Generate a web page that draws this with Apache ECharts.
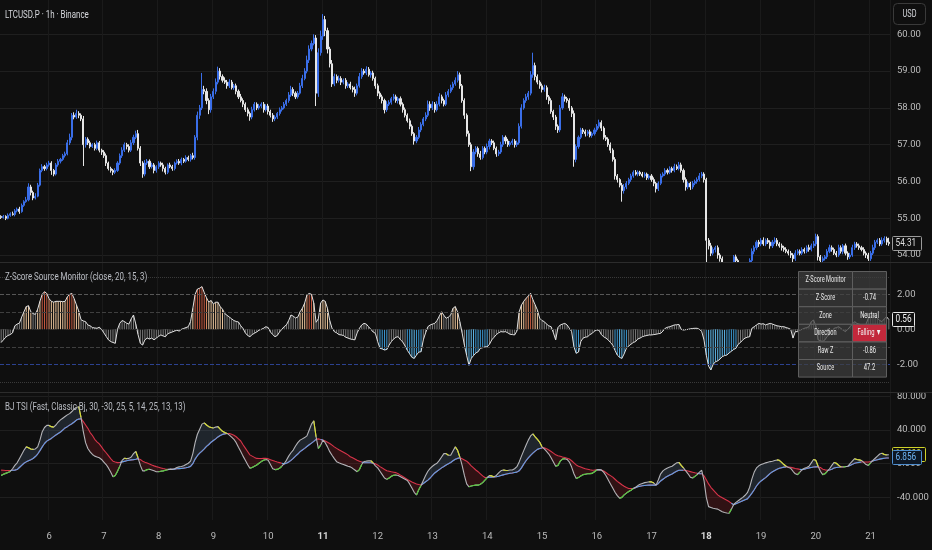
<!DOCTYPE html>
<html><head><meta charset="utf-8">
<script src="https://cdn.jsdelivr.net/npm/echarts@6/dist/echarts.min.js"></script>
<style>html,body{margin:0;padding:0;background:#0f0f0f;}#c{width:932px;height:550px;}</style>
</head><body><div id="c"></div>
<script>
// ---------- DATA (hourly bars, first bar = day 5, 03:00) ----------
const startDay = 5, startHour = 3;
const firstOpen = 55.05;
const closeRows = [
 [55.02,55.05,55.0,55.08,55.12,55.1,55.2,55.25,55.18,55.35,55.45,55.5,55.85,55.7,55.55,55.6,55.9,56.3,56.4,56.35,56.45],
 [56.5,56.3,56.2,56.45,56.55,56.6,56.7,56.75,57.05,57.2,57.8,57.75,57.85,57.8,57.7,57.0,57.15,57.05,56.95,57.0,56.9,57.05,56.85,56.8],
 [56.7,56.5,56.35,56.3,56.25,56.3,56.5,56.7,56.85,57.0,56.95,56.85,57.05,57.2,57.3,56.9,56.5,56.2,56.5,56.55,56.4,56.45,56.3,56.4],
 [56.5,56.45,56.35,56.25,56.45,56.4,56.35,56.5,56.55,56.5,56.6,56.55,56.65,56.6,56.7,56.65,57.2,57.8,58.0,58.5,58.45,58.2,57.95,58.3],
 [58.45,58.7,59.0,58.85,58.75,58.7,58.6,58.7,58.55,58.6,58.45,58.3,58.2,58.1,57.95,57.85,57.75,57.95,58.1,58.0,58.05,58.1,57.95,58.05],
 [57.9,57.8,57.7,57.75,57.85,57.95,58.0,58.1,58.2,58.35,58.5,58.4,58.3,58.4,58.6,58.8,59.0,59.3,59.6,59.75,59.9,58.4,59.5,59.95],
 [60.4,60.1,59.6,59.2,58.65,58.85,58.75,58.8,58.7,58.75,58.6,58.65,58.55,58.5,58.4,58.6,58.85,59.0,58.95,59.05,58.9,58.95,58.8,58.6],
 [58.4,58.3,58.2,57.95,58.1,58.15,58.25,58.3,58.2,58.25,58.1,57.95,57.8,57.65,57.5,57.3,57.1,57.2,57.4,57.55,57.7,57.8,58.1,58.0],
 [58.1,57.95,58.1,58.3,58.2,58.1,58.35,58.45,58.55,58.65,58.75,58.9,58.6,58.2,57.8,57.3,57.0,56.4,56.8,56.9,56.75,56.65,56.9,56.8],
 [56.95,57.1,57.05,56.9,56.75,56.8,57.0,57.2,57.1,57.0,57.05,57.1,57.0,57.05,57.5,58.0,58.2,58.3,58.4,58.9,59.15,58.85,58.7,58.6],
 [58.5,58.55,58.3,58.2,57.9,57.75,57.5,57.4,58.0,58.3,58.25,58.2,58.0,57.85,56.6,56.95,57.2,57.4,57.35,57.3,57.35,57.25,57.3,57.4],
 [57.5,57.6,57.45,57.2,57.15,57.0,56.85,56.6,56.15,56.05,55.9,55.75,55.85,55.95,56.05,56.15,56.25,56.2,56.25,56.2,56.15,56.2,56.1,56.15],
 [56.05,55.95,55.8,55.95,56.15,56.2,56.3,56.25,56.35,56.3,56.4,56.35,56.45,56.3,56.05,55.85,55.95,55.85,55.95,56.0,56.05,56.15,56.2,56.05],
 [54.4,54.25,54.05,54.15,54.2,54.0,53.9,53.7,53.6,53.65,53.6,53.75,53.95,53.85,53.7,53.6,53.55,53.6,53.7,53.85,54.1,54.2,54.35,54.3],
 [54.4,54.3,54.4,54.35,54.25,54.35,54.4,54.3,54.25,54.2,54.15,54.1,54.05,54.0,53.9,54.05,54.1,54.05,54.15,54.1,54.2,54.15,54.25,54.3],
 [54.5,53.95,53.85,53.9,53.95,54.1,54.2,54.15,54.05,54.0,54.2,54.1,54.25,54.05,53.95,54.0,54.2,54.3,54.25,54.2,54.15,54.05,54.0,53.9],
 [54.05,54.2,54.35,54.4,54.3,54.4,54.45,54.35,54.31]
];
// wick lengths above / below the candle body, in cents
const wickUpRows = [
 [3,4,3,5,4,6,5,4,6,5,4,8,10,6,5,8,6,5,7,5,6],
 [6,5,4,5,6,4,5,6,8,10,6,8,10,6,5,8,6,5,6,4,5,6,5,4],
 [5,6,4,5,4,6,5,6,8,6,5,6,8,7,8,10,6,5,8,6,5,6,5,4],
 [5,4,6,5,4,6,5,4,5,6,5,4,6,5,5,8,6,10,8,45,10,8,6,8],
 [8,10,12,8,6,8,6,8,6,5,6,5,8,6,5,6,5,8,6,5,6,5,6,5],
 [6,5,6,5,4,6,5,6,5,8,10,6,5,6,8,10,8,12,10,8,10,8,12,15],
 [15,10,8,6,10,8,6,8,6,5,6,5,6,5,8,6,10,8,6,8,6,5,6,5],
 [6,5,6,5,8,6,5,8,6,5,6,5,6,5,6,5,4,6,8,6,5,8,10,8],
 [8,6,8,10,6,5,8,6,8,6,8,10,6,5,6,5,8,6,8,6,5,8,6,5],
 [8,6,5,6,5,6,8,6,5,6,5,6,5,6,8,10,6,8,6,10,35,8,6,5],
 [6,8,6,5,6,5,6,5,8,10,6,5,6,5,8,6,5,6,5,6,5,6,5,6],
 [6,8,6,5,6,5,6,5,6,5,4,6,8,6,5,6,5,6,5,4,6,5,4,5],
 [5,6,4,5,6,5,6,5,6,5,8,6,8,6,5,6,5,4,6,5,6,8,6,5],
 [5,6,8,6,5,6,5,6,5,6,8,6,5,6,5,6,5,6,8,6,8,6,5,6],
 [6,8,5,6,5,6,8,6,5,6,5,6,5,6,5,8,6,5,6,5,6,8,6,8],
 [8,6,5,6,5,6,8,6,5,6,8,6,5,6,5,6,8,6,5,6,5,6,5,6],
 [6,8,6,5,6,8,6,5,12]
];
const wickDnRows = [
 [4,3,5,3,4,3,5,4,6,3,4,3,4,8,6,4,3,4,5,6,5],
 [5,12,6,4,5,6,4,5,4,6,8,6,5,8,6,58,8,6,5,4,6,5,6,8],
 [6,8,5,6,8,5,4,5,6,5,8,6,5,6,5,6,8,10,6,5,6,5,8,6],
 [6,5,8,6,5,4,6,5,4,5,6,5,4,5,6,5,6,8,10,6,8,10,12,8],
 [6,8,6,8,6,5,8,6,5,6,8,6,5,8,6,8,10,6,5,6,5,6,8,5],
 [8,6,8,6,5,6,5,4,5,6,5,8,6,5,4,6,5,6,8,6,5,35,10,8],
 [10,15,12,10,8,6,8,6,8,6,8,6,5,8,10,6,5,6,5,6,5,8,6,8],
 [8,6,8,10,6,5,6,5,6,8,6,8,6,5,8,6,10,6,5,6,5,6,5,8],
 [6,8,5,6,8,6,5,6,5,6,5,6,8,6,10,8,6,12,8,6,8,6,5,6],
 [6,8,6,5,8,6,5,6,8,6,5,6,8,6,5,6,5,6,8,6,8,10,6,8],
 [8,6,8,10,6,8,10,8,6,5,8,6,8,10,20,8,6,5,6,8,6,5,6,5],
 [5,6,8,6,5,6,8,6,10,8,6,30,8,6,5,6,5,4,6,5,4,5,6,5],
 [6,8,10,6,5,4,5,6,5,6,5,4,5,6,8,10,6,8,6,5,6,5,6,8],
 [60,10,8,6,8,10,8,6,8,6,8,6,8,10,6,8,6,8,6,5,6,8,6,8],
 [6,5,6,5,8,6,5,6,5,8,6,5,6,8,10,6,5,6,5,6,5,6,5,6],
 [6,10,8,6,5,6,5,6,5,6,5,6,8,6,8,6,5,6,5,6,5,6,8,6],
 [6,5,6,5,6,5,6,8,6]
];
const zScoreRows = [
 [-0.75,-0.6,-0.45,-0.35,-0.3,-0.2,0.2,0.3,0.35,0.7,1.0,1.3,1.35,1.0,0.9,0.85,1.15,1.6,2.0,2.15,2.05],
 [1.75,1.6,1.55,1.6,1.6,1.6,1.58,1.6,1.85,2.0,2.05,1.75,1.4,1.05,0.55,0.48,0.44,0.25,0.2,0.1,0.08,0.06,0.12,0.0],
 [-0.2,-0.4,-0.6,-0.7,-0.75,-0.8,0.0,0.35,0.5,0.45,0.35,0.3,0.6,0.82,0.3,-0.3,-0.8,-0.9,-0.6,-0.5,-0.55,-0.5,-0.6,-0.5],
 [-0.4,-0.32,-0.38,-0.42,-0.25,-0.2,-0.15,-0.1,-0.05,-0.1,0.0,0.05,0.1,0.15,0.45,1.2,2.0,2.3,2.35,2.44,2.1,1.8,1.55,1.65],
 [1.45,1.55,1.55,1.3,1.15,0.9,0.8,0.7,0.6,0.5,0.45,0.42,0.2,0.05,-0.2,-0.35,-0.42,-0.3,-0.22,-0.15,-0.05,0.0,0.06,0.15],
 [0.1,-0.15,-0.3,-0.42,-0.35,-0.15,0.0,0.15,0.25,0.5,0.82,0.75,0.65,0.7,1.0,1.2,1.5,1.96,2.05,2.0,1.5,0.4,0.6,1.5],
 [1.68,1.6,1.2,0.5,0.06,-0.13,-0.2,-0.3,-0.32,-0.35,-0.45,-0.5,-0.55,-0.58,-0.6,-0.2,0.06,0.25,0.34,0.3,0.15,0.0,-0.15,-0.23],
 [-0.7,-1.08,-1.12,-1.18,-1.15,-0.9,-0.7,-0.55,-0.45,-0.42,-0.6,-0.72,-0.95,-1.2,-1.4,-1.6,-1.66,-1.47,-1.3,-1.28,-0.6,-0.2,0.15,0.25],
 [0.3,0.34,0.5,0.75,1.0,0.8,0.63,0.7,0.82,1.2,1.3,1.0,0.44,-0.2,-0.9,-1.5,-2.05,-1.66,-1.5,-1.35,-1.28,-1.08,-1.05,-1.0],
 [-1.0,-0.85,-0.6,-0.45,-0.3,-0.2,-0.13,-0.15,-0.13,-0.2,-0.28,-0.3,-0.32,-0.1,1.0,1.39,1.6,1.77,1.9,2.06,1.7,1.4,1.1,0.63],
 [0.5,0.44,0.3,0.2,0.15,-0.2,-0.6,0.1,0.25,0.3,0.34,0.25,0.06,-0.13,-1.0,-1.37,-1.3,-0.7,-0.5,-0.45,-0.42,-0.3,-0.23,-0.1],
 [-0.04,-0.05,-0.3,-0.42,-0.5,-0.6,-0.75,-0.9,-1.2,-1.47,-1.6,-1.66,-1.4,-1.08,-0.95,-0.85,-0.75,-0.7,-0.55,-0.5,-0.42,-0.38,-0.35,-0.32],
 [-0.32,-0.3,-0.28,-0.25,-0.23,-0.1,0.06,0.12,0.15,0.2,0.25,0.26,0.28,0.0,-0.04,-0.02,0.0,0.03,0.05,0.06,0.06,0.0,-0.13,-0.6],
 [-1.47,-2.1,-2.32,-2.0,-1.85,-1.8,-1.7,-1.56,-1.5,-1.47,-1.35,-1.25,-1.15,-1.08,-0.85,-0.75,-0.6,-0.5,-0.45,-0.42,0.06,0.15,0.25,0.34],
 [0.3,0.32,0.25,0.3,0.34,0.3,0.25,0.2,0.18,0.15,0.15,0.1,0.06,0.0,-0.5,-0.13,-0.13,-0.05,0.0,0.06,0.1,0.15,0.44,0.53],
 [0.2,-0.6,-0.65,-0.7,-0.6,-0.4,-0.3,-0.1,0.06,0.1,0.15,0.05,-0.05,-0.13,0.0,0.15,0.3,0.44,0.34,0.3,0.25,0.15,0.3,0.63],
 [0.7,0.82,0.75,0.63,0.5,0.44,0.6,0.72,0.56]
];
const tsiFastRows = [
 [-14,-12.5,-11.5,-10.5,-9.3,-6,-2,1,6,11,16,20,19,17.5,17,17.5,20,28,38,43,45.5],
 [45.5,44,43.5,46,49.5,52,54,56,58,59.5,62,65,67,67.7,55,38,25,18,14,11,9,8,7,5],
 [2,-1,-5,-10,-15.5,-14,-9,-3,4,6.5,6,6.3,8,12,14.5,7,-2,-8.5,-8.5,-7,-6.5,-7.5,-8.5,-9.5],
 [-9.5,-9,-8.5,-7.8,-7.2,-6.5,-6.7,-6,-4.5,-3.8,-3.3,-2.5,-1,0.5,3,12,25,35,41,47,48.5,46,44,43],
 [42.5,43.5,44,41,38.5,37,36,34,31.5,29,25,19.5,14.5,9,4,-1,-5.5,-4.5,-3,-1.6,0.5,2.5,4,5],
 [4,-1,-6,-7,-6.8,-5.5,-3,0,4,9,13,16.2,21,25,28,29.5,31,33,40,47,51,32,18,22],
 [28,25,20,14.3,10,6,2.4,1,0,-1,-2,-3,-3.8,-5.5,-7.5,-9.5,-7,-1,2.6,3,3.3,3.5,1,-2.5],
 [-5,-9,-13,-17,-18.6,-17,-15,-13.8,-13.5,-14,-15.5,-17,-18.5,-20,-24,-29,-34,-37.2,-31,-26,-20,-14,-9,-5.5],
 [-3,-1,0.5,4,8,12,12,10,10,15,20,16,8,-2,-14,-24,-27.5,-26.5,-26,-25.5,-25.5,-24.5,-22.5,-19.6],
 [-16.5,-14,-14.5,-15.5,-14,-11,-8.5,-7.5,-7.8,-8,-7.5,-7.5,-6,-3.5,2,9,15.5,22,28,33,35.5,32,29,25.5],
 [20,17.5,14.5,11.5,7,2,-3,-2,3,5.5,6,5,2,-4,-12,-17.5,-16.5,-14.5,-13,-12.5,-12,-11.8,-11.5,-9.5],
 [-7.5,-7,-7.5,-10,-14,-19,-24,-29,-34,-38,-41,-40,-37,-35,-33,-31.5,-29.5,-28,-26,-24.5,-23.5,-22.5,-22,-21.5],
 [-21.6,-23,-25.5,-19,-12,-8.5,-6.5,-5,-4,-3,-1,1,1.5,-2,-5,-8.5,-12,-16,-17,-15,-13,-10,-7.8,-20],
 [-40,-51,-52,-53,-53.5,-54,-55.5,-57,-58,-58.5,-58.8,-54,-48.5,-46,-44,-42,-40,-37.5,-34.5,-28,-18,-10,-5,-2.5],
 [-1,0,1,1.8,2.5,3,3.8,4.5,4,1.5,-1,-3,-4.5,-5.5,-9,-12,-13,-10,-7,-5.5,-4.5,-3,1,5],
 [4,-3,-9,-13,-12,-9,-6,-2,1.5,0.5,-2,-3.8,-4,-3.5,-3.1,0,3,5.9,5,4.5,3.9,1.5,-1,-2],
 [1,4,6.5,9,11.5,12.5,11,10.5,10.6]
];
const tsiSlowRows = [
 [-7.6,-7.8,-8,-8,-8,-7.8,-7.6,-7,-4.5,-2,0.5,2.2,3.5,4.8,6.2,8.5,11.5,15.5,20,24,26.8],
 [28.5,30,32.2,34,35.8,37.6,40,42.5,44,45.8,47.5,49.5,51.8,53,53.5,50,46,42,37,33.5,29,26,23.5,20],
 [16,13,9.5,6,3,2,1.3,1.5,2.2,2.8,3.4,4,4.5,4.8,5.3,6,5,3,1.8,0.8,-0.3,-1.5,-2.6,-3.5],
 [-4.2,-5,-5.8,-6.3,-6.7,-6.8,-6.7,-6.4,-6,-5.8,-5.6,-5.3,-4.8,-4.2,-3.2,0,5.5,9.5,12.5,15,17.5,20.5,22.8,25.5],
 [27.5,29.5,31.8,33.5,34.8,35.4,35.8,35.9,35,33.8,32,29.5,27,22.5,18.5,14.5,10.5,9,7.5,6.3,6.2,6.2,6.3,6.3],
 [5.8,4.8,3.8,2.8,2,1.3,0.5,-0.2,0.5,2,4,6.3,9,11.5,14.3,16.3,18.2,20.4,22.5,24.5,26.5,29,29.5,28.8],
 [28,27,25.5,24,22,20,18.2,16.5,15,13.5,12,10.5,8.3,7,5.5,4,3,2,1.2,1.2,1.2,1.1,0.6,-0.2],
 [-1.5,-3.5,-5,-6.8,-8.4,-9,-9.6,-10.1,-10.6,-12,-13.6,-15.2,-17,-18.8,-20.2,-21.8,-23,-24.2,-24.8,-25.3,-23.5,-21.5,-19.5,-17],
 [-14,-11,-9,-7,-5,-3.3,-1.5,0,1.5,3.5,5.2,6.3,7,6,4.5,3,0.5,-2.5,-5,-7.5,-9.5,-12,-14.5,-16.4],
 [-16.3,-16,-15.9,-15.8,-15.5,-15,-14,-13.3,-12.6,-12,-11.4,-11,-10.5,-10,-8.5,-5,-0.5,3.5,7,10,12.5,15,17,18],
 [18.7,18.8,17.8,16.3,14.5,12.5,10.5,9.5,8.8,8,7.3,6.5,5.5,3.5,1,-1.5,-3,-4,-5,-6,-6.6,-7.2,-7.7,-7.5],
 [-7.2,-7,-7.5,-8.6,-10.5,-12.5,-14.2,-16,-18.5,-21,-23,-25,-26.8,-28.3,-29.4,-29.5,-29.4,-28.5,-27.5,-26.8,-26.2,-25.9,-25.7,-25.5],
 [-25.5,-25.5,-25.5,-23.5,-20.5,-18.5,-16.5,-15,-13.5,-12.3,-10.5,-9,-7.8,-7.8,-7.8,-8,-8.7,-9.4,-10.1,-10.8,-11.4,-11.9,-12,-14.5],
 [-19,-24,-28,-31,-34,-37,-39,-40.5,-42,-43.5,-45,-47,-48.8,-47.5,-46.3,-45.3,-44,-42.8,-41.8,-38.5,-35,-31,-26.5,-23],
 [-20.5,-18.5,-16.5,-14,-11.5,-9.5,-8,-6.5,-5.5,-4.8,-4.1,-3.9,-4,-4.3,-5,-5.7,-6.2,-6.7,-7,-6.5,-5.8,-5,-4.5,-4],
 [-3.8,-3.6,-4.5,-6.5,-7.3,-7.7,-7.5,-6.5,-5.2,-4.5,-4.2,-3.9,-3.7,-3.4,-3.1,-2,-0.8,0.6,1.2,1.6,2,2,2,2],
 [2.6,3.3,4,4.7,5.4,6,6.4,6.7,6.856]
];
const priceTicks = [54, 55, 56, 57, 58, 59, 60];
const zTicks = [-2, 0, 2];
const zLevels = [3, 2, 1, 0, -1, -2, -3];
const tsiTicks = [-40, 0, 40, 80];
const boldDays = [11, 18];
const tableRows = [['Z-Score Monitor',''],['Z-Score','-0.74'],['Zone','Neutral'],['Direction','Falling ▼'],['Raw Z','-0.86'],['Source','47.2']];
const titles = ['LTCUSD.P · 1h · Binance', 'Z-Score Source Monitor (close, 20, 15, 3)', 'BJ TSI (Fast, Classic Bj, 30, -30, 25, 5, 14, 25, 13, 13)'];

const FONT = 'Roboto, "Noto Sans", sans-serif';
const FS = 9.5;

// ---------- build ----------
const closes = closeRows.flat();
const wickUp = wickUpRows.flat();
const wickDn = wickDnRows.flat();
const zScore = zScoreRows.flat();
const tsiFast = tsiFastRows.flat();
const tsiSlow = tsiSlowRows.flat();
const N = closes.length;
const cats = [], dayOf = [], hourOf = [];
for (let i = 0; i < N; i++) {
  const t = startHour + i;
  dayOf.push(startDay + Math.floor(t / 24)); hourOf.push(t % 24);
  cats.push(dayOf[i] + ' ' + String(hourOf[i]).padStart(2, '0') + ':00');
}
const midnight = (idx) => hourOf[idx] === 0;
const candles = closes.map((c, i) => {
  const o = i === 0 ? firstOpen : closes[i - 1];
  return [o, c, +(Math.min(o, c) - wickDn[i] / 100).toFixed(2), +(Math.max(o, c) + wickUp[i] / 100).toFixed(2)];
});
function zColor(v){
  if (v >= 2.0) return '#c4583f';
  if (v >= 1.7) return '#d98a63';
  if (v >= 1.0) return '#ebc59c';
  if (v > -1.0) return '#7a7a7a';
  if (v > -1.5) return '#3b97d0';
  return '#5db6e8';
}
const baseBand = tsiFast.map((f, i) => Math.min(f, tsiSlow[i]));
const blueBand = tsiFast.map((f, i) => f >= tsiSlow[i] ? +(f - tsiSlow[i]).toFixed(3) : 0);
const redBand = tsiFast.map((f, i) => f < tsiSlow[i] ? +(tsiSlow[i] - f).toFixed(3) : 0);
function overlay(arr, test){
  const out = arr.map(() => null);
  for (let i = 1; i < arr.length; i++) if (test(i)) { out[i - 1] = arr[i - 1]; out[i] = arr[i]; }
  return out;
}
const slowBlue = overlay(tsiSlow, i => tsiFast[i] >= tsiSlow[i]);
const fastYellow = overlay(tsiFast, i => tsiFast[i] > tsiSlow[i] && tsiFast[i] < tsiFast[i - 1]);
const fastGreen = overlay(tsiFast, i => tsiFast[i] < tsiSlow[i] && tsiFast[i] > tsiFast[i - 1]);

const labelStyle = { color: '#bcbcbc', fontSize: FS, fontFamily: FONT };
const vSplit = { show: true, interval: (idx) => midnight(idx), lineStyle: { color: '#1a1a1a', width: 1 } };
function xAx(g, showLabel, z){
  return { type: 'category', gridIndex: g, data: cats, boundaryGap: true, z: z,
    axisLine: { show: false }, axisTick: { show: false }, splitLine: vSplit,
    axisLabel: showLabel ? { show: true, interval: (idx) => midnight(idx), margin: 12, ...labelStyle,
      formatter: (v) => { const d = parseInt(v, 10); return boldDays.includes(d) ? '{b|' + d + '}' : String(d); },
      rich: { b: { fontWeight: 'bold', color: '#d6d6d6', fontSize: FS, fontFamily: FONT } } } : { show: false } };
}
function yAx(g, min, max, ticks, dec, split){
  return { type: 'value', gridIndex: g, position: 'right', min, max, scale: true,
    axisLine: { show: false }, axisTick: { show: false, customValues: ticks },
    axisLabel: { show: true, customValues: ticks, formatter: (v) => v.toFixed(dec), margin: 7, align: 'left', ...labelStyle },
    splitLine: { show: split, lineStyle: { color: '#1f1f1f', width: 1 } } };
}
const levelStyle = { 3: ['dotted', '#3a3a3a'], 2: ['dashed', '#575757'], 1: ['dashed', '#3f3f3f'], 0: ['dotted', '#2e2e2e'],
  '-1': ['dashed', '#3f3f3f'], '-2': ['dashed', '#2c4290'], '-3': ['dotted', '#3a3a3a'] };

const option = {
  backgroundColor: '#0f0f0f', animation: false,
  grid: [
    { left: 0, right: 42, top: 0, height: 262, outerBoundsMode: 'none' },
    { left: 0, right: 42, top: 263, height: 129, outerBoundsMode: 'none' },
    { left: 0, right: 42, top: 393, height: 127, outerBoundsMode: 'none' }
  ],
  xAxis: [xAx(0, false, 0), xAx(1, false, 2), xAx(2, true, 0)],
  yAxis: [yAx(0, 53.81, 60.933, priceTicks, 2, true), yAx(1, -3.58, 3.79, zTicks, 2, false), yAx(2, -66.9, 84, tsiTicks, 3, true)],
  series: [
    { type: 'candlestick', xAxisIndex: 0, yAxisIndex: 0, data: candles, barWidth: 1.6, clip: true, z: 1,
      itemStyle: { color: '#3a6ee8', color0: '#e6e6e6', borderColor: '#3a6ee8', borderColor0: '#e6e6e6', borderWidth: 1 } },
    { type: 'bar', xAxisIndex: 1, yAxisIndex: 1, barWidth: 1, z: 2,
      data: zScore.map(v => ({ value: v, itemStyle: { color: zColor(v) } })),
      markLine: { silent: true, symbol: ['none', 'none'], label: { show: false }, animation: false,
        data: zLevels.map(l => ({ yAxis: l, lineStyle: { type: levelStyle[l][0], color: levelStyle[l][1], width: 1 } })) } },
    { type: 'line', xAxisIndex: 1, yAxisIndex: 1, data: zScore, symbol: 'none', z: 3, lineStyle: { color: '#e2e2e2', width: 1 } },
    { type: 'line', xAxisIndex: 2, yAxisIndex: 2, data: baseBand, stack: 'band', stackStrategy: 'all', symbol: 'none', z: 1, lineStyle: { opacity: 0 } },
    { type: 'line', xAxisIndex: 2, yAxisIndex: 2, data: blueBand, stack: 'band', stackStrategy: 'all', symbol: 'none', z: 1, lineStyle: { opacity: 0 }, areaStyle: { color: 'rgba(110,150,190,0.24)' } },
    { type: 'line', xAxisIndex: 2, yAxisIndex: 2, data: redBand, stack: 'band', stackStrategy: 'all', symbol: 'none', z: 1, lineStyle: { opacity: 0 }, areaStyle: { color: 'rgba(165,30,40,0.32)' } },
    { type: 'line', xAxisIndex: 2, yAxisIndex: 2, data: tsiSlow, symbol: 'none', z: 2, lineStyle: { color: '#d8344a', width: 1.1 } },
    { type: 'line', xAxisIndex: 2, yAxisIndex: 2, data: slowBlue, symbol: 'none', z: 2, connectNulls: false, lineStyle: { color: '#58a2e6', width: 1.1 } },
    { type: 'line', xAxisIndex: 2, yAxisIndex: 2, data: tsiFast, symbol: 'none', z: 3, lineStyle: { color: '#b4b4b8', width: 1.1 } },
    { type: 'line', xAxisIndex: 2, yAxisIndex: 2, data: fastYellow, symbol: 'none', z: 4, connectNulls: false, lineStyle: { color: '#d6dc2c', width: 1.1 } },
    { type: 'line', xAxisIndex: 2, yAxisIndex: 2, data: fastGreen, symbol: 'none', z: 4, connectNulls: false, lineStyle: { color: '#55c83a', width: 1.1 } }
  ]
};
const chart = echarts.init(document.getElementById('c'), null, { renderer: 'canvas' });
chart.setOption(option);

// ---------- overlays ----------
const g = [];
function txt(t, x, y, st, z, sx){
  return { type: 'text', z: z || 100, x, y, scaleX: sx || 1, scaleY: 1,
    style: Object.assign({ text: t, x: 0, y: 0, fill: '#cfd1d6', fontSize: 11, fontFamily: FONT, verticalAlign: 'middle' }, st || {}) };
}
// cover for candles running below the price pane
g.push({ type: 'rect', z: 1.5, shape: { x: 0, y: 263, width: 890, height: 13 }, style: { fill: '#0f0f0f' } });
g.push({ type: 'line', z: 90, shape: { x1: 0, y1: 262.5, x2: 932, y2: 262.5 }, style: { stroke: '#2c2c2c', lineWidth: 1 } });
g.push({ type: 'line', z: 90, shape: { x1: 0, y1: 392.5, x2: 932, y2: 392.5 }, style: { stroke: '#2c2c2c', lineWidth: 1 } });
g.push(txt(titles[0], 5, 15, { fill: '#d6d8dd' }, 100, 0.72));
g.push(txt(titles[1], 5, 277, { fill: '#b9bcc3' }, 100, 0.72));
g.push(txt(titles[2], 5, 407, { fill: '#b9bcc3' }, 100, 0.72));
g.push({ type: 'rect', z: 100, shape: { x: 893.5, y: 3.5, width: 32, height: 21, r: 4 }, style: { fill: 'none', stroke: '#3a3a3a', lineWidth: 1 } });
g.push(txt('USD', 909.5, 14.5, { align: 'center', fontSize: 10.5, fill: '#d6d8dd' }, 100, 0.7));
// table
const T = { x: 798.5, y: 271.5, w1: 54, w2: 34, rh: 17.6 };
tableRows.forEach((r, k) => {
  const y = T.y + k * T.rh;
  g.push({ type: 'rect', z: 100, shape: { x: T.x, y, width: T.w1, height: T.rh }, style: { fill: 'rgba(62,62,62,0.74)', stroke: '#5e5e5e', lineWidth: 1 } });
  g.push({ type: 'rect', z: 100, shape: { x: T.x + T.w1, y, width: T.w2, height: T.rh }, style: { fill: k === 3 ? '#c2283b' : 'rgba(62,62,62,0.74)', stroke: '#5e5e5e', lineWidth: 1 } });
  g.push(txt(r[0], T.x + T.w1 / 2, y + T.rh / 2, { align: 'center', fontSize: 8.8, fill: '#e6e6e6' }, 101, 0.64));
  if (r[1]) g.push(txt(r[1], T.x + T.w1 + T.w2 / 2, y + T.rh / 2, { align: 'center', fontSize: 8.8, fill: '#f0f0f0' }, 101, 0.66));
});
// axis value tags
function tag(axisIdx, val, text, stroke, fill, color, w, z){
  const y = Math.round(chart.convertToPixel({ yAxisIndex: axisIdx }, val));
  g.push({ type: 'rect', z: z, shape: { x: 892.5, y: y - 7.5, width: w, height: 14, r: 1 }, style: { fill, stroke, lineWidth: 1 } });
  g.push(txt(text, 895.5, y - 0.5, { fill: color, fontSize: 11 }, z + 1, 0.75));
}
tag(0, closes[N - 1], closes[N - 1].toFixed(2), '#9a9a9a', '#0f0f0f', '#dcdcdc', 29, 110);
tag(1, zScore[N - 1], zScore[N - 1].toFixed(2), '#e6e6e6', '#0f0f0f', '#f2f2f2', 22, 110);
tag(2, tsiFast[N - 1], tsiFast[N - 1].toFixed(3), '#cfd22a', '#0f0f0f', '#cfd22a', 33, 110);
tag(2, tsiSlow[N - 1], tsiSlow[N - 1].toFixed(3), '#4f8fd0', '#0d1724', '#6cb2f2', 29, 120);
chart.setOption({ graphic: g });
</script></body></html>
